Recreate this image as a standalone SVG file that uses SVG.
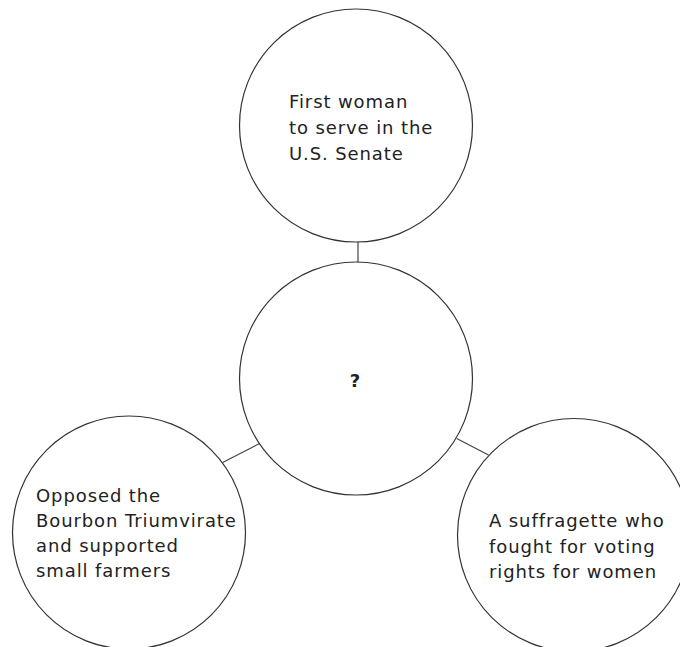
<svg xmlns="http://www.w3.org/2000/svg" width="680" height="647" viewBox="0 0 680 647">
<style>
.node{fill:#fff;stroke:#333;stroke-width:1.2}
.lbl{font-family:"DejaVu Sans",Verdana,sans-serif;font-size:18px;letter-spacing:0.9px;fill:#222}
.q{font-family:"DejaVu Sans",Verdana,sans-serif;font-size:18px;font-weight:bold;fill:#222}
.conn{stroke:#444;stroke-width:1.2;fill:none}
</style>
<rect width="680" height="647" fill="#fff"/>
<g id="connectors">
<line class="conn" x1="358" y1="242" x2="358" y2="263"/>
<line class="conn" x1="222.7" y1="462.5" x2="259.5" y2="443.5"/>
<line class="conn" x1="456.7" y1="438.5" x2="488.5" y2="455"/>
</g>
<g id="top">
<circle class="node" cx="356" cy="125.5" r="116.5"/>
<text class="lbl" x="289" y="108">First woman</text>
<text class="lbl" x="289" y="134">to serve in the</text>
<text class="lbl" x="289" y="160">U.S. Senate</text>
</g>
<g id="center">
<circle class="node" cx="356" cy="378.5" r="116.5"/>
<text class="q" x="355" y="387" text-anchor="middle">?</text>
</g>
<g id="left">
<circle class="node" cx="129" cy="532.5" r="116.5"/>
<text class="lbl" x="36" y="502">Opposed the</text>
<text class="lbl" x="36" y="527">Bourbon Triumvirate</text>
<text class="lbl" x="36" y="552">and supported</text>
<text class="lbl" x="36" y="577">small farmers</text>
</g>
<g id="right">
<circle class="node" cx="574" cy="535" r="116.5"/>
<text class="lbl" x="489" y="527">A suffragette who</text>
<text class="lbl" x="489" y="553">fought for voting</text>
<text class="lbl" x="489" y="578">rights for women</text>
</g>
</svg>
